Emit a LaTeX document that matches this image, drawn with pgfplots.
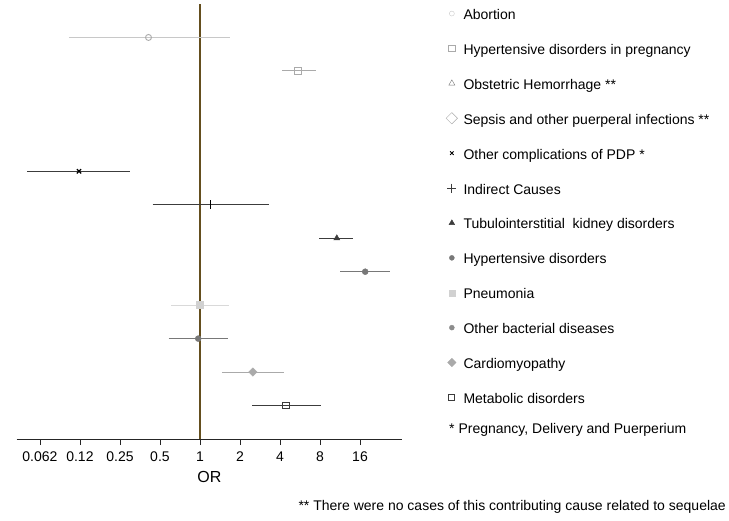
\documentclass[border=0pt]{standalone}
\usepackage{fontspec}
\setmainfont{Liberation Sans}
\usepackage{pgfplots}
\pgfplotsset{compat=1.18}
\definecolor{refline}{RGB}{100,78,30}
\definecolor{cLight}{RGB}{200,200,200}
\definecolor{cMid}{RGB}{170,170,170}
\definecolor{cGrey}{RGB}{120,120,120}
\definecolor{cDark}{RGB}{60,60,60}

\begin{document}
\fontsize{14bp}{16bp}\selectfont
\begin{tikzpicture}
\begin{axis}[
    scale only axis, width=385.3bp, height=435bp,
    xmode=log, log basis x=2,
    xmin=0.0418, xmax=33.1, ymin=0, ymax=13,
    axis x line=bottom, axis y line=none,
    x axis line style={-, line width=0.9bp, black!85},
    xtick={0.0625,0.125,0.25,0.5,1,2,4,8,16},
    xticklabels={0.062,0.12,0.25,0.5,1,2,4,8,16},
    tick align=outside, major tick length=6bp,
    tick style={black!85, line width=0.8bp},
    xticklabel style={font=\fontsize{14bp}{16bp}\selectfont, yshift=-2bp},
    xlabel={OR}, xlabel style={font=\fontsize{16bp}{18bp}\selectfont},
    legend style={draw=none, fill=none, inner sep=0pt,
        at={(1.1142,0.9946)}, anchor=north west,
        font=\fontsize{14bp}{16bp}\selectfont,
        nodes={inner sep=0pt, text height=10bp, text depth=3bp},
        row sep=18.9bp, column sep=6bp},
    legend cell align=left,
    legend image code/.code={
        \path[draw=none, fill=none] (0bp,-4.5bp) rectangle (10bp,9.5bp);
        \draw[#1] plot coordinates {(5bp,2.5bp)};},
]
% reference line at OR = 1
\addplot[forget plot, refline, line width=1.3bp] coordinates {(1,0) (1,13)};

% confidence intervals (row 12 = top, row 1 = bottom)
\addplot[forget plot, cLight, line width=1.1bp] coordinates {(0.103,12) (1.68,12)};
\addplot[forget plot, cMid, line width=1.1bp] coordinates {(4.16,11) (7.46,11)};
\addplot[forget plot, cDark, line width=1.1bp] coordinates {(0.050,8) (0.30,8)};
\addplot[forget plot, cDark, line width=1.1bp] coordinates {(0.44,7) (3.29,7)};
\addplot[forget plot, cDark, line width=1.1bp] coordinates {(7.9,6) (14.2,6)};
\addplot[forget plot, cGrey, line width=1.1bp] coordinates {(11.4,5) (26.9,5)};
\addplot[forget plot, black!15, line width=1.1bp] coordinates {(0.61,4) (1.66,4)};
\addplot[forget plot, cGrey, line width=1.1bp] coordinates {(0.58,3) (1.63,3)};
\addplot[forget plot, cMid, line width=1.1bp] coordinates {(1.46,2) (4.28,2)};
\addplot[forget plot, cDark, line width=1.1bp] coordinates {(2.48,1) (8.1,1)};

% point estimates
\addplot[forget plot, only marks, mark=o, mark size=3bp, cMid, line width=0.9bp] coordinates {(0.41,12)};
\addplot[forget plot, only marks, mark=square, mark size=3.5bp, cMid, line width=0.9bp] coordinates {(5.5,11)};
\addplot[forget plot, only marks, mark=x, mark size=3bp, black, line width=1.3bp] coordinates {(0.123,8)};
\addplot[forget plot, only marks, mark=|, mark size=4.5bp, black, line width=1.1bp] coordinates {(1.2,7)};
\addplot[forget plot, only marks, mark=triangle*, mark size=3.5bp, cDark] coordinates {(10.7,6)};
\addplot[forget plot, only marks, mark=*, mark size=3bp, cGrey] coordinates {(17.5,5)};
\addplot[forget plot, only marks, mark=square*, mark size=3.5bp, black!18] coordinates {(1.0,4)};
\addplot[forget plot, only marks, mark=*, mark size=3bp, cGrey] coordinates {(0.97,3)};
\addplot[forget plot, only marks, mark=square*, mark options={rotate=45}, mark size=3bp, cMid] coordinates {(2.5,2)};
\addplot[forget plot, only marks, mark=square, mark size=3.2bp, cDark, fill=white, line width=0.9bp] coordinates {(4.44,1)};

% legend
\addlegendimage{only marks, mark=o, mark size=2.5bp, cLight}
\addlegendentry{Abortion}
\addlegendimage{only marks, mark=square, mark size=3.2bp, cMid}
\addlegendentry{Hypertensive disorders in pregnancy}
\addlegendimage{only marks, mark=triangle, mark size=3.5bp, cGrey}
\addlegendentry{Obstetric Hemorrhage **}
\addlegendimage{only marks, mark=square, mark options={rotate=45}, mark size=4bp, cMid}
\addlegendentry{Sepsis and other puerperal infections **}
\addlegendimage{only marks, mark=x, mark size=2.5bp, black, line width=0.9bp}
\addlegendentry{Other complications of PDP *}
\addlegendimage{only marks, mark=+, mark size=4.5bp, cDark, line width=0.8bp}
\addlegendentry{Indirect Causes}
\addlegendimage{only marks, mark=triangle*, mark size=3.2bp, cDark}
\addlegendentry{Tubulointerstitial\ \ kidney disorders}
\addlegendimage{only marks, mark=*, mark size=2.5bp, cGrey}
\addlegendentry{Hypertensive disorders}
\addlegendimage{only marks, mark=square*, mark size=3bp, black!18}
\addlegendentry{Pneumonia}
\addlegendimage{only marks, mark=*, mark size=2.5bp, black!45}
\addlegendentry{Other bacterial diseases}
\addlegendimage{only marks, mark=square*, mark options={rotate=45}, mark size=3bp, cMid}
\addlegendentry{Cardiomyopathy}
\addlegendimage{only marks, mark=square, mark size=3bp, cDark, line width=0.9bp}
\addlegendentry{Metabolic disorders}
\end{axis}
\node[anchor=west, inner sep=0pt] at ([xshift=432.3bp, yshift=9bp]current axis.south west)
    {* Pregnancy, Delivery and Puerperium};
\node[anchor=east, inner sep=0pt] at ([xshift=709.3bp, yshift=-68bp]current axis.south west)
    {** There were no cases of this contributing cause related to sequelae};
\pgfresetboundingbox
\path ([xshift=-16.7bp, yshift=-82bp]current axis.south west) rectangle ++(729bp,521bp);
\end{tikzpicture}
\end{document}
